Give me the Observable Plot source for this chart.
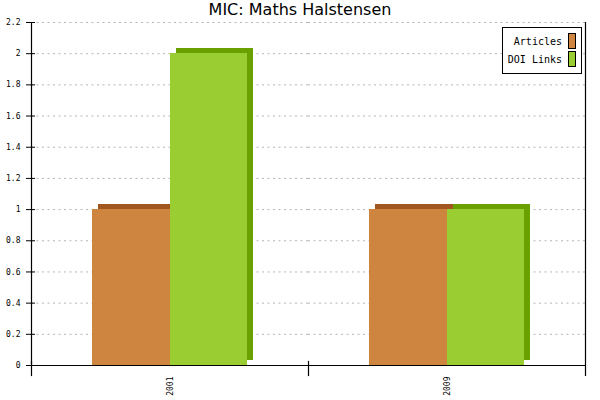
<!DOCTYPE html>
<html>
<head>
<meta charset="utf-8">
<script src="https://cdn.jsdelivr.net/npm/d3@7"></script>
<script src="https://cdn.jsdelivr.net/npm/@observablehq/plot@0.6"></script>
<style>
  html, body { margin: 0; padding: 0; background: #fff; }
  #wrap { position: relative; width: 600px; height: 400px; overflow: hidden; }
  #title { position: absolute; left: 0; top: 0; width: 600px; height: 20px; line-height: 20px; text-align: center; font-family: "DejaVu Sans", sans-serif; font-size: 16px; color: #000; z-index: 2; }
  #legend { position: absolute; left: 502px; top: 27px; width: 78px; height: 45px; border: 1px solid #000; background: #fff; font-family: "DejaVu Sans Mono", monospace; font-size: 10px; z-index: 2; }
  .row { position: absolute; right: 5px; display: flex; align-items: center; }
  .row span { margin-right: 6px; }
  .sw { width: 6px; height: 14px; border: 1px solid #000; }
  svg { display: block; }
</style>
</head>
<body>
<div id="wrap">
  <div id="chart"></div>
  <div id="title">MIC: Maths Halstensen</div>
  <div id="legend"></div>
</div>
<script>
const years = ["2001", "2009"];
const series = ["Articles", "DOI Links"];
const articles = [1, 1];
const doiLinks = [2, 1];
const yTicks = [0, 0.2, 0.4, 0.6, 0.8, 1, 1.2, 1.4, 1.6, 1.8, 2, 2.2];
const frontColors = ["#CD853F", "#9ACD32"];
const sideColors = ["#A0561E", "#6AA000"];

const values = [articles, doiLinks];
const rows = [];
years.forEach((yr, i) => series.forEach((s, j) => rows.push({year: yr, series: s, value: values[j][i]})));

const barMarks = [];
series.forEach((s, j) => {
  const sub = rows.filter(r => r.series === s);
  barMarks.push(Plot.barY(sub, {fx: "year", x: "series", y: "value", fill: sideColors[j], dx: 6, dy: -5, shapeRendering: "crispEdges"}));
  barMarks.push(Plot.barY(sub, {fx: "year", x: "series", y: "value", fill: frontColors[j], shapeRendering: "crispEdges"}));
});

const mono = "DejaVu Sans Mono, monospace";
const chart = Plot.plot({
  width: 600,
  height: 400,
  marginLeft: 31,
  marginRight: 15,
  marginTop: 22,
  marginBottom: 35,
  fx: {domain: years, paddingInner: 0, paddingOuter: 0, round: false, label: null},
  x: {domain: series, paddingInner: 0, paddingOuter: 0.776, round: false, axis: null},
  y: {domain: [0, 2.2], label: null},
  style: {background: "#fff", color: "#000", fontFamily: mono, fontSize: "8px"},
  marks: [
    Plot.gridY(yTicks.filter(d => d > 0), {stroke: "#b4b4b4", strokeOpacity: 1, strokeDasharray: "2,3.5"}),
    ...barMarks,
    Plot.ruleY([0], {stroke: "#000", strokeWidth: 1.2}),
    Plot.frame({anchor: "left", facetAnchor: "left", stroke: "#000", strokeWidth: 1.2}),
    Plot.frame({anchor: "right", facetAnchor: "right", stroke: "#000", strokeWidth: 1.2, insetBottom: -10}),
    Plot.frame({anchor: "left", stroke: "#000", strokeWidth: 1.2, insetTop: 339, insetBottom: -10}),
    Plot.axisY({ticks: yTicks, tickSize: 0, tickPadding: 11, tickFormat: d => String(d), fontFamily: mono, fontSize: 8}),
    Plot.axisY({ticks: yTicks, tickSize: 9, dx: 4, tickFormat: () => "", stroke: "#000"}),
    Plot.axisFx({anchor: "bottom", tickSize: 0, tickPadding: 11, tickRotate: -90, label: null, fontFamily: mono, fontSize: 8})
  ]
});
document.getElementById("chart").appendChild(chart);

const legend = document.getElementById("legend");
series.forEach((s, j) => {
  const row = document.createElement("div");
  row.className = "row";
  row.style.top = (5 + j * 18) + "px";
  const t = document.createElement("span");
  t.textContent = s;
  const sw = document.createElement("div");
  sw.className = "sw";
  sw.style.background = frontColors[j];
  row.appendChild(t);
  row.appendChild(sw);
  legend.appendChild(row);
});
</script>
</body>
</html>
